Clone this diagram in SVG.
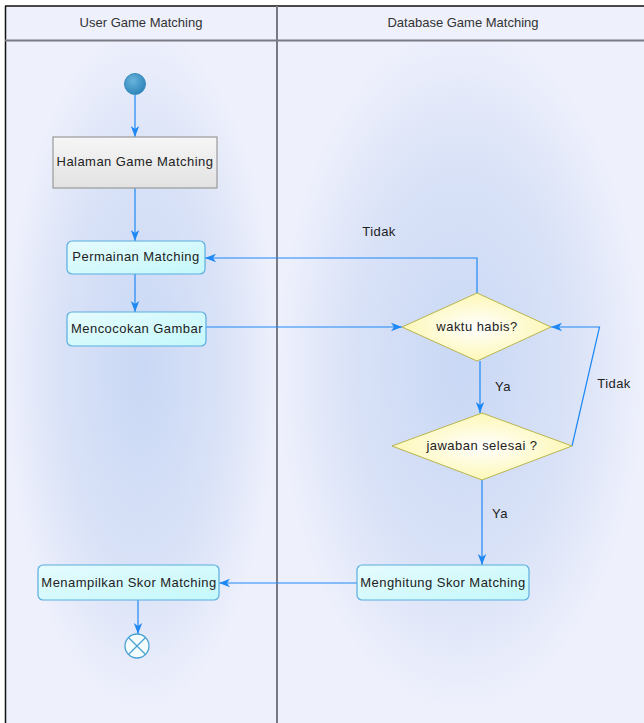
<svg xmlns="http://www.w3.org/2000/svg" width="644" height="723" viewBox="0 0 644 723">
<style>
text{font-family:"Liberation Sans",Arial,sans-serif;font-size:13px;letter-spacing:0.45px;fill:#222;}
.hdr{font-size:13px;letter-spacing:0;fill:#333;}
.act{fill:url(#gAct);stroke:#5aaede;stroke-width:1.2;}
.dec{fill:url(#gDec);stroke:#b8b450;stroke-width:1;}
.conn{fill:none;stroke:#1e88f5;stroke-width:1.2;}
</style>
<defs>
<radialGradient id="gLane" cx="0.5" cy="0.48" r="0.5" fx="0.5" fy="0.48">
<stop offset="0" stop-color="#c9d8f5"/>
<stop offset="0.6" stop-color="#d9e2f7"/>
<stop offset="1" stop-color="#eef0fc"/>
</radialGradient>
<linearGradient id="gAct" x1="0" y1="0" x2="1" y2="1">
<stop offset="0" stop-color="#e6fbfd"/>
<stop offset="1" stop-color="#c4f8fb"/>
</linearGradient>
<linearGradient id="gGray" x1="0" y1="0" x2="0" y2="1">
<stop offset="0" stop-color="#f6f6f6"/>
<stop offset="1" stop-color="#e2e2e2"/>
</linearGradient>
<radialGradient id="gDec" cx="0.5" cy="0.5" r="0.6">
<stop offset="0" stop-color="#ffffff"/>
<stop offset="1" stop-color="#fdf6a8"/>
</radialGradient>
<radialGradient id="gStart" cx="0.4" cy="0.35" r="0.7">
<stop offset="0" stop-color="#6ab4dc"/>
<stop offset="1" stop-color="#2a82b8"/>
</radialGradient>
<marker id="arr" markerWidth="12" markerHeight="10" refX="11" refY="5" orient="auto" markerUnits="userSpaceOnUse">
<path d="M0,0.8 L11,5 L0,9.2 L3,5 Z" fill="#1e88f5"/>
</marker>
</defs>
<rect x="0" y="0" width="644" height="723" fill="#ffffff"/>
<rect x="5" y="6" width="639" height="717" fill="#eef0fc"/>
<rect x="6" y="41" width="271" height="682" fill="url(#gLane)"/>
<rect x="278" y="41" width="366" height="682" fill="url(#gLane)"/>
<g id="frame">
<line x1="5" y1="6" x2="644" y2="6" stroke="#111" stroke-width="1.5"/>
<line x1="5.5" y1="6" x2="5.5" y2="723" stroke="#111" stroke-width="1.5"/>
<line x1="5" y1="40.5" x2="644" y2="40.5" stroke="#7a7a84" stroke-width="2"/>
<line x1="277" y1="6" x2="277" y2="723" stroke="#7a7a84" stroke-width="2"/>
<text class="hdr" x="141" y="27" text-anchor="middle">User Game Matching</text>
<text class="hdr" x="463" y="27" text-anchor="middle">Database Game Matching</text>
</g>
<g id="connectors">
<line class="conn" x1="135" y1="95" x2="135" y2="137" marker-end="url(#arr)"/>
<line class="conn" x1="135" y1="188" x2="135" y2="241" marker-end="url(#arr)"/>
<line class="conn" x1="135" y1="274" x2="135" y2="312" marker-end="url(#arr)"/>
<line class="conn" x1="206" y1="327" x2="402" y2="327" marker-end="url(#arr)"/>
<polyline class="conn" points="477,293 477,258 205,258" marker-end="url(#arr)"/>
<line class="conn" x1="480" y1="361" x2="480" y2="413" marker-end="url(#arr)"/>
<polyline class="conn" points="572,446 599.5,327 551,327" marker-end="url(#arr)"/>
<line class="conn" x1="482" y1="480" x2="482" y2="565" marker-end="url(#arr)"/>
<line class="conn" x1="357" y1="583" x2="219" y2="583" marker-end="url(#arr)"/>
<line class="conn" x1="138" y1="600" x2="138" y2="634" marker-end="url(#arr)"/>
<text x="379" y="236" text-anchor="middle">Tidak</text>
<text x="503" y="391" text-anchor="middle">Ya</text>
<text x="614" y="388" text-anchor="middle">Tidak</text>
<text x="500" y="518" text-anchor="middle">Ya</text>
</g>
<g id="start">
<circle cx="135" cy="84" r="10.5" fill="url(#gStart)" stroke="#3a8cc0" stroke-width="1"/>
</g>
<g id="halaman">
<rect x="53" y="137" width="164" height="51" fill="url(#gGray)" stroke="#9a9a9a" stroke-width="1.2"/>
<text x="135" y="166" text-anchor="middle">Halaman Game Matching</text>
</g>
<g id="permainan">
<rect class="act" x="67" y="241" width="138" height="33" rx="5"/>
<text x="136" y="261" text-anchor="middle">Permainan Matching</text>
</g>
<g id="mencocokan">
<rect class="act" x="67" y="312" width="139" height="34" rx="5"/>
<text x="137" y="333" text-anchor="middle">Mencocokan Gambar</text>
</g>
<g id="waktu">
<polygon class="dec" points="477,293 551,327 477,361 402,327"/>
<text x="477" y="331" text-anchor="middle">waktu habis?</text>
</g>
<g id="jawaban">
<polygon class="dec" points="482,413 572,446 482,480 392,446"/>
<text x="482" y="450" text-anchor="middle">jawaban selesai ?</text>
</g>
<g id="menghitung">
<rect class="act" x="357" y="565" width="172" height="35" rx="5"/>
<text x="443" y="587" text-anchor="middle">Menghitung Skor Matching</text>
</g>
<g id="menampilkan">
<rect class="act" x="38" y="565" width="181" height="35" rx="5"/>
<text x="129" y="587" text-anchor="middle">Menampilkan Skor Matching</text>
</g>
<g id="end">
<circle cx="137" cy="646" r="12" fill="#f4fcfe" stroke="#4aa2d2" stroke-width="1.3"/>
<line x1="128.5" y1="637.5" x2="145.5" y2="654.5" stroke="#4aa2d2" stroke-width="1.3"/>
<line x1="145.5" y1="637.5" x2="128.5" y2="654.5" stroke="#4aa2d2" stroke-width="1.3"/>
</g>
</svg>
